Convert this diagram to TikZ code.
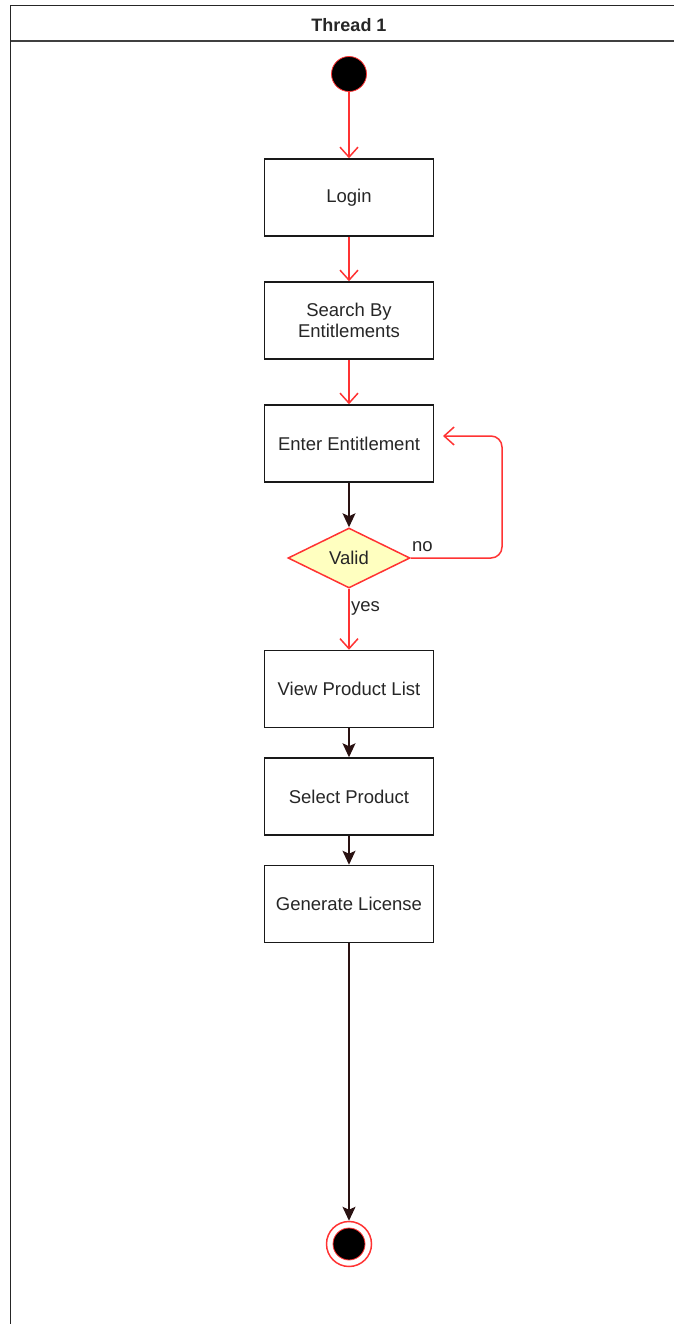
\documentclass[tikz,border=0pt]{standalone}
\usepackage{fontspec}
\setmainfont{Liberation Sans}
\usetikzlibrary{arrows.meta,shapes.geometric}
\definecolor{lred}{HTML}{FF3333}
\definecolor{dark}{HTML}{2A1212}
\definecolor{txt}{HTML}{262626}
\definecolor{yel}{HTML}{FFFFC0}
\begin{document}
\begin{tikzpicture}[x=1pt,y=-1pt,
  font=\fontsize{18.5}{21.5}\selectfont,
  actbox/.style={draw=black!90,line width=1.5pt,minimum width=169pt,minimum height=77pt,inner sep=0pt,text=txt,align=center},
  redarrow/.style={draw=lred,line width=1.5pt,-{Straight Barb[length=10pt,width=18pt,line width=1.5pt]}},
  darkarrow/.style={draw=dark,line width=1.5pt,-{Stealth[length=14pt,width=13pt,inset=3pt]}},
  lbl/.style={text=txt,inner sep=0pt}]
\useasboundingbox (0,0) rectangle (674,1324);
% frame
\draw[line width=1.6pt,black!85] (10.5,1324) -- (10.5,5.5) -- (674,5.5);
\draw[line width=1.6pt,black!75] (10.5,41) -- (674,41);
\node[font=\bfseries\fontsize{18}{21}\selectfont,text=txt] (title) at (349,25) {Thread 1};
% start
\node[circle,fill=black,draw=lred,line width=0.8pt,minimum size=35pt,inner sep=0pt] (start) at (349,74) {};
% boxes
\node[actbox] (login) at (349,197.5) {Login};
\node[actbox] (search) at (349,320.5) {Search By\\Entitlements};
\node[actbox] (enter) at (349,443.5) {Enter Entitlement};
\node[diamond,draw=lred,fill=yel,line width=1.5pt,minimum width=122pt,minimum height=60pt,inner sep=0pt,text=txt] (valid) at (349,558) {Valid};
\node[actbox] (view) at (349,689) {View Product List};
\node[actbox] (select) at (349,796.5) {Select Product};
\node[actbox] (gen) at (349,904) {Generate License};
% end
\node[circle,draw=lred,line width=1.5pt,minimum size=45pt,inner sep=0pt] (endo) at (349,1244) {};
\node[circle,fill=black,draw=lred,line width=0.8pt,minimum size=32pt,inner sep=0pt] (endi) at (349,1244) {};
% connectors
\draw[redarrow] (start) -- (login);
\draw[redarrow] (login) -- (search);
\draw[redarrow] (search) -- (enter);
\draw[darkarrow] (enter) -- (valid);
\coordinate (loopA) at (502,558);
\coordinate (loopB) at (502,436);
\coordinate (loopEnd) at (443,436);
\draw[redarrow,rounded corners=11pt] (valid.east) -- (loopA) -- (loopB) -- (loopEnd);
\node[lbl,anchor=west] (nolbl) at (412,547) {no};
\draw[redarrow] (valid) -- (view);
\node[lbl,anchor=west] (yeslbl) at (351,608) {yes};
\draw[darkarrow] (view) -- (select);
\draw[darkarrow] (select) -- (gen);
\draw[darkarrow] (gen) -- (endo);
\end{tikzpicture}
\end{document}
